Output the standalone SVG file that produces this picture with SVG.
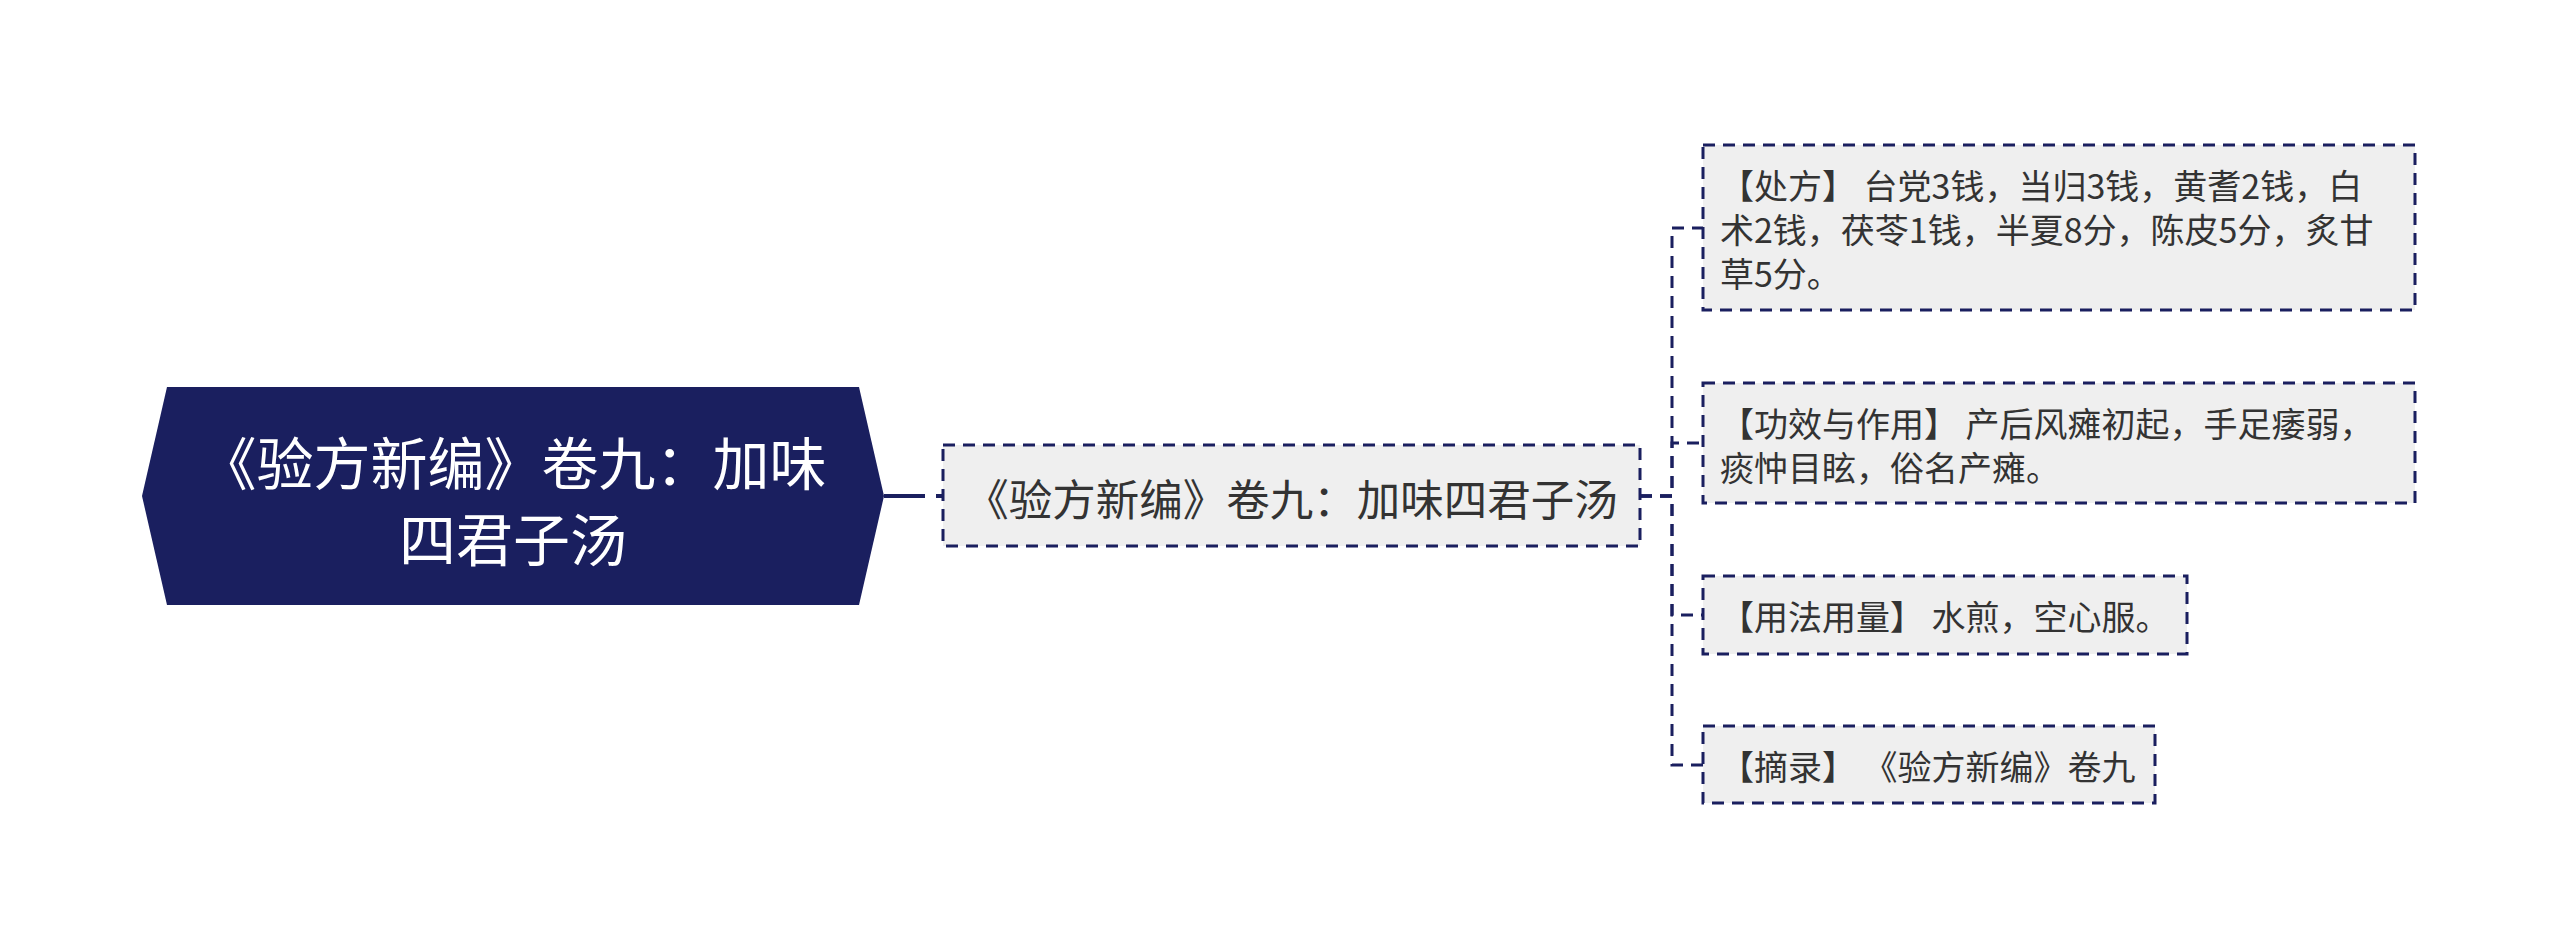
<svg xmlns="http://www.w3.org/2000/svg" width="2560" height="949" viewBox="0 0 2560 949">
<style>
.root-shape{fill:#1a1f5f;}
.root-text{fill:#ffffff;font-family:"Noto Sans CJK SC","Noto Sans",sans-serif;font-size:57px;text-anchor:middle;dominant-baseline:central;}
.box{fill:#efefef;stroke:#1a1f5f;stroke-width:3;stroke-dasharray:12 8;}
.child-text{fill:#333333;font-family:"Noto Sans CJK SC","Noto Sans",sans-serif;font-size:43.5px;text-anchor:middle;dominant-baseline:central;}
.leaf-text{fill:#333333;font-family:"Noto Sans CJK SC","Noto Sans",sans-serif;font-size:34px;dominant-baseline:central;white-space:pre;}
.conn{fill:none;stroke:#1a1f5f;stroke-width:3;stroke-dasharray:12 8;}
.conn-main{fill:none;stroke:#1a1f5f;stroke-width:4;stroke-dasharray:41 11 8 100;}
</style>
<rect width="2560" height="949" fill="#ffffff"/>
<g id="connectors">
<path class="conn-main" d="M884,496 H943"/>
<path class="conn" d="M1640,496 H1672 V228 H1703"/>
<path class="conn" d="M1640,496 H1672 V443 H1703"/>
<path class="conn" d="M1640,496 H1672 V615 H1703"/>
<path class="conn" d="M1640,496 H1672 V765 H1703"/>
</g>
<g id="root">
<polygon class="root-shape" points="167,387 859,387 884,496 859,605 167,605 142,496"/>
<text class="root-text"><tspan x="513" y="460">《验方新编》卷九：加味</tspan><tspan x="513" y="536">四君子汤</tspan></text>
</g>
<g id="child">
<rect class="box" x="943" y="445" width="697" height="101"/>
<text class="child-text" x="1291.5" y="497">《验方新编》卷九：加味四君子汤</text>
</g>
<g id="leaf-prescription">
<rect class="box" x="1703" y="145" width="712" height="165"/>
<text class="leaf-text"><tspan x="1720" y="184">【处方】 台党3钱，当归3钱，黄耆2钱，白</tspan><tspan x="1720" y="228">术2钱，茯苓1钱，半夏8分，陈皮5分，炙甘</tspan><tspan x="1720" y="272">草5分。</tspan></text>
</g>
<g id="leaf-effect">
<rect class="box" x="1703" y="383" width="712" height="120"/>
<text class="leaf-text"><tspan x="1720" y="422">【功效与作用】 产后风瘫初起，手足痿弱，</tspan><tspan x="1720" y="466">痰忡目眩，俗名产瘫。</tspan></text>
</g>
<g id="leaf-usage">
<rect class="box" x="1703" y="576" width="484" height="78"/>
<text class="leaf-text" x="1720" y="615">【用法用量】 水煎，空心服。</text>
</g>
<g id="leaf-source">
<rect class="box" x="1703" y="726" width="452" height="77"/>
<text class="leaf-text" x="1720" y="765">【摘录】 《验方新编》卷九</text>
</g>
</svg>
